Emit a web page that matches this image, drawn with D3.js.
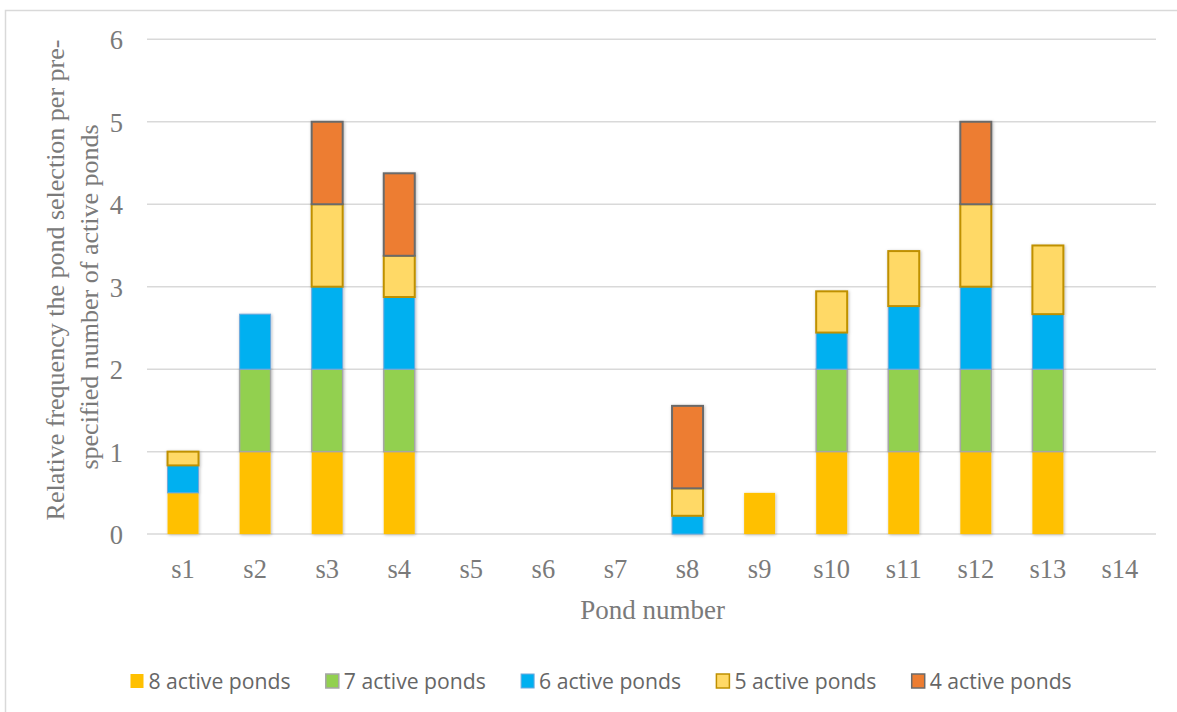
<!DOCTYPE html>
<html>
<head>
<meta charset="utf-8">
<script src="https://cdn.jsdelivr.net/npm/d3@7"></script>
<style>
  html, body { margin: 0; padding: 0; background: #fff; }
  svg { display: block; }
</style>
</head>
<body>
<svg id="chart" width="1177" height="712"></svg>
<script>
// Pond selection frequency, stacked by pre-specified number of active ponds
const ponds = ["s1","s2","s3","s4","s5","s6","s7","s8","s9","s10","s11","s12","s13","s14"];
const active8 = [0.5, 1, 1, 1, 0, 0, 0, 0, 0.5, 1, 1, 1, 1, 0];
const active7 = [0, 1, 1, 1, 0, 0, 0, 0, 0, 1, 1, 1, 1, 0];
const active6 = [0.333, 0.667, 1, 0.875, 0, 0, 0, 0.222, 0, 0.444, 0.765, 1, 0.667, 0];
const active5 = [0.167, 0, 1, 0.5, 0, 0, 0, 0.333, 0, 0.5, 0.667, 1, 0.833, 0];
const active4 = [0, 0, 1, 1, 0, 0, 0, 1, 0, 0, 0, 1, 0, 0];
const seriesNames = ["8 active ponds","7 active ponds","6 active ponds","5 active ponds","4 active ponds"];
const yTicks = [0, 1, 2, 3, 4, 5, 6];

const seriesValues = [active8, active7, active6, active5, active4];
const fills   = ["#FFC000", "#92D050", "#00B0F0", "#FFD966", "#ED7D31"];
const strokes = ["#FFC000", "#A6A6A6", "#6FA8DC", "#BF9000", "#6B6B6B"];
const strokeW = [0, 1.5, 1, 2, 2];

const table = ponds.map((p, i) => {
  const row = { pond: p };
  seriesNames.forEach((s, k) => row[s] = seriesValues[k][i]);
  return row;
});

const svg = d3.select("#chart");
const W = 1177, H = 712;
const serif = "'Liberation Serif', 'Times New Roman', serif";

// chart frame
svg.append("rect")
  .attr("x", 5.5).attr("y", 10.5)
  .attr("width", W).attr("height", H)
  .attr("fill", "#fff").attr("stroke", "#D9D9D9").attr("stroke-width", 1.5);

const defs = svg.append("defs");
defs.append("filter").attr("id", "soft").attr("x", "-30%").attr("y", "-30%")
  .attr("width", "160%").attr("height", "160%")
  .append("feDropShadow")
  .attr("dx", 0.8).attr("dy", 0.8).attr("stdDeviation", 1.6)
  .attr("flood-color", "#000").attr("flood-opacity", 0.28);

const plot = { left: 147, right: 1156, top: 39.3, bottom: 534.1 };

const x = d3.scaleBand().domain(ponds)
  .range([plot.left, plot.right]).paddingInner(0.57).paddingOuter(0.285);
const y = d3.scaleLinear().domain([0, 6]).range([plot.bottom, plot.top]);

// gridlines
svg.append("g").selectAll("line").data(yTicks).join("line")
  .attr("x1", plot.left).attr("x2", plot.right)
  .attr("y1", d => y(d)).attr("y2", d => y(d))
  .attr("stroke", "#D9D9D9").attr("stroke-width", 1.5);

// y axis labels
const yAxis = d3.axisLeft(y).tickValues(yTicks).tickSize(0).tickPadding(0).tickFormat(d3.format("d"));
const gy = svg.append("g").attr("transform", `translate(${plot.left - 24},0)`).call(yAxis);
gy.attr("font-family", serif);
gy.select(".domain").remove();
gy.selectAll("text")
  .style("font-family", serif)
  .attr("font-size", 26.5).attr("fill", "#7A7A7A").attr("dy", "0.36em");

// stacked bars
const stack = d3.stack().keys(seriesNames);
const layers = stack(table);

const barsG = svg.append("g").attr("filter", "url(#soft)");
layers.forEach((layer, k) => {
  barsG.append("g").selectAll("rect")
    .data(layer.filter(d => d[1] - d[0] > 0))
    .join("rect")
    .attr("x", d => x(d.data.pond))
    .attr("width", x.bandwidth())
    .attr("y", d => y(d[1]))
    .attr("height", d => y(d[0]) - y(d[1]))
    .attr("fill", fills[k])
    .attr("stroke", strokeW[k] > 0 ? strokes[k] : "none")
    .attr("stroke-width", strokeW[k]);
});

// x axis labels
const xAxis = d3.axisBottom(x).tickSize(0).tickPadding(0);
const gx = svg.append("g").attr("transform", `translate(0,${plot.bottom})`).call(xAxis);
gx.attr("font-family", serif);
gx.select(".domain").remove();
gx.selectAll("text")
  .style("font-family", serif)
  .attr("font-size", 26.5).attr("fill", "#7A7A7A")
  .attr("dy", null).attr("y", 44);

// axis titles
svg.append("text")
  .attr("x", (plot.left + plot.right) / 2 + 1).attr("y", 619)
  .attr("text-anchor", "middle")
  .style("font-family", serif)
  .attr("font-size", 27).attr("fill", "#7A7A7A")
  .text("Pond number");

const yTitle = [
  { text: "Relative frequency the pond selection per pre-", cx: 57, cy: 280 },
  { text: "specified number of active ponds", cx: 91, cy: 297 }
];
svg.append("g").selectAll("text").data(yTitle).join("text")
  .attr("transform", d => `translate(${d.cx + 7},${d.cy}) rotate(-90)`)
  .attr("text-anchor", "middle")
  .style("font-family", serif)
  .attr("font-size", 26).attr("fill", "#7A7A7A")
  .text(d => d.text);

// legend
const lg = svg.append("g");
seriesNames.forEach((s, k) => {
  const x0 = 130 + k * 195.3;
  lg.append("rect")
    .attr("x", x0 + 0.5).attr("y", 674)
    .attr("width", 13).attr("height", 14)
    .attr("fill", fills[k])
    .attr("stroke", strokeW[k] > 0 ? strokes[k] : "none")
    .attr("stroke-width", Math.min(strokeW[k], 1.5));
  lg.append("text")
    .attr("x", x0 + 18.5).attr("y", 688.5)
    .style("font-family", "'Open Sans', 'Noto Sans', sans-serif")
    .attr("font-size", 21).attr("fill", "#666")
    .attr("textLength", 142).attr("lengthAdjust", "spacingAndGlyphs")
    .text(s);
});
</script>
</body>
</html>
